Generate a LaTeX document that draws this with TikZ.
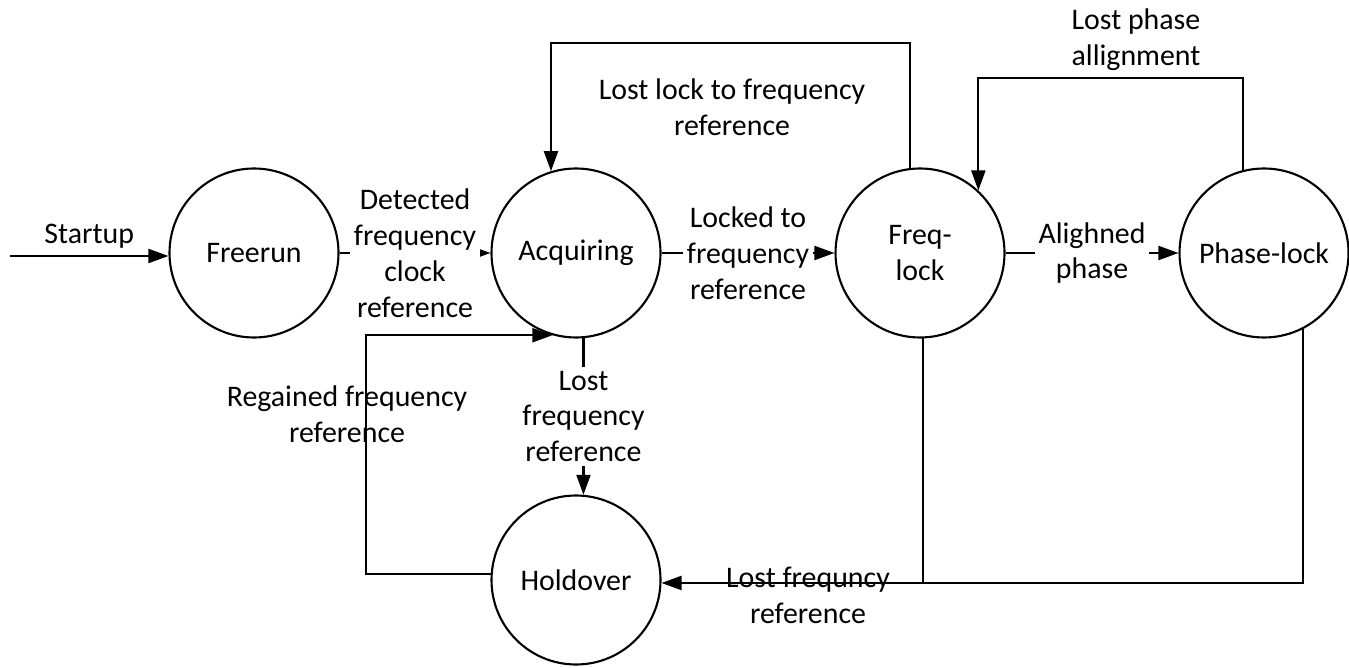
\documentclass[tikz,border=0pt]{standalone}
\usepackage{fontspec}
\setmainfont{Carlito}
\usetikzlibrary{arrows.meta}
\begin{document}
\begin{tikzpicture}[
	state/.style={circle, draw, line width=0.6pt, minimum size=1.69cm, inner sep=0pt, align=center},
	lbl/.style={fill=white, inner sep=1pt, align=center},
	plainlbl/.style={inner sep=1pt, align=center},
	trans/.style={line width=0.6pt, -{Triangle[length=2mm,width=1.4mm]}},
	font=\fontsize{8.5}{10.2}\selectfont]
	\useasboundingbox (0,0) rectangle (13.49,6.67);
	\node[state] (freerun) at (2.54,4.14) {Freerun};
	\node[state] (acquiring) at (5.76,4.14) {Acquiring};
	\node[state] (freqlock) at (9.20,4.14) {Freq-\\lock};
	\node[state] (phaselock) at (12.64,4.14) {Phase-lock};
	\node[state] (holdover) at (5.76,0.87) {Holdover};
	\coordinate (start) at (0.10,4.11);
	\draw[trans] (start) -- node[above, inner sep=2pt] (startup) {Startup} (start -| freerun.west);
	\draw[trans] (freerun) -- node[lbl] (detected) {Detected\\frequency\\clock\\reference} (acquiring);
	\draw[trans] (acquiring) -- node[lbl] (locked) {Locked to\\frequency\\reference} (freqlock);
	\draw[trans] (freqlock) -- node[lbl] (aligned) {Alighned\\phase} (phaselock);
	\draw[trans] (acquiring.275) -- node[lbl] (lostref) {Lost\\frequency\\reference} (holdover.85);
	\coordinate (lockloop) at (7.30,6.24);
	\draw[trans] (freqlock.97) |- (lockloop) -| (acquiring.107);
	\node[plainlbl] (lostlock) at (7.32,5.595) {Lost lock to frequency\\reference};
	\coordinate (phaseloop) at (11.10,5.89);
	\draw[trans] (phaselock.104) |- (phaseloop) -| (freqlock.47);
	\node[plainlbl] (lostphase) at (11.36,6.27) {Lost phase\\allignment};
	\draw[trans] (holdover.176) -- ++(-1.25,0) |- (acquiring.254);
	\node[plainlbl] (regained) at (3.47,2.525) {Regained frequency\\reference};
	\draw[trans] (phaselock.297) |- (holdover.358);
	\draw[line width=0.6pt] (freqlock.272) -- (freqlock.272 |- holdover.358);
	\node[plainlbl] (lostfreq) at (8.08,0.715) {Lost frequncy\\reference};
\end{tikzpicture}
\end{document}
